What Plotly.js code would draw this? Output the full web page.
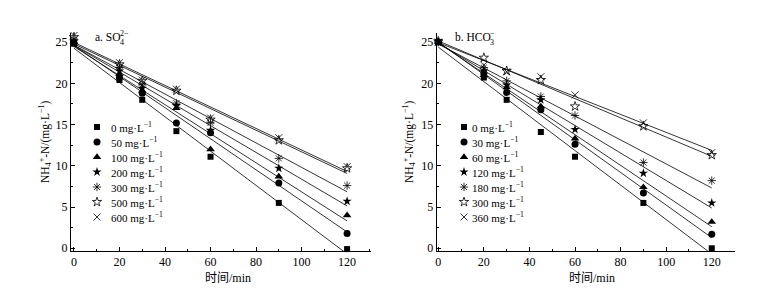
<!DOCTYPE html>
<html>
<head>
<meta charset="utf-8">
<script src="https://cdn.plot.ly/plotly-3.0.1.min.js"></script>
<style>html,body{margin:0;padding:0;background:#fff;}#chart{width:772px;height:299px;}</style>
</head>
<body>
<div id="chart"></div>
<script>
// ---- data ----
const times = [0, 20, 30, 45, 60, 90, 120];

const so4Labels = ["0", "50", "100", "200", "300", "500", "600"];
const so4_0   = [24.8, 20.4, 18.0, 14.2, 11.1, 5.5, -0.1];
const so4_50  = [24.9, 20.7, 18.8, 15.2, 14.0, 7.9, 1.8];
const so4_100 = [25.0, 21.1, 19.1, 17.0, 12.0, 8.7, 4.0];
const so4_200 = [25.1, 21.5, 19.4, 17.3, 14.3, 9.7, 5.7];
const so4_300 = [25.3, 21.9, 19.8, 17.6, 15.2, 10.9, 7.6];
const so4_500 = [25.6, 22.3, 20.3, 19.1, 15.6, 13.1, 9.7];
const so4_600 = [25.8, 22.5, 20.4, 19.3, 15.8, 13.4, 9.9];

const hco3Labels = ["0", "30", "60", "120", "180", "300", "360"];
const hco3_0   = [25.0, 20.7, 18.0, 14.1, 11.1, 5.5, 0.0];
const hco3_30  = [25.0, 21.2, 18.9, 16.8, 12.6, 6.7, 1.7];
const hco3_60  = [25.0, 21.0, 19.5, 17.2, 13.3, 7.4, 3.2];
const hco3_120 = [25.0, 21.5, 19.8, 18.0, 14.4, 9.1, 5.5];
const hco3_180 = [25.0, 21.9, 20.3, 18.4, 16.1, 10.4, 8.2];
const hco3_300 = [25.1, 23.1, 21.5, 20.4, 17.2, 14.8, 11.3];
const hco3_360 = [25.0, 22.2, 21.4, 20.8, 18.6, 15.2, 11.6];

const xTicks = [0, 20, 40, 60, 80, 100, 120];
const yTicks = [0, 5, 10, 15, 20, 25];

// ---- styles ----
const W = 772, H = 299;
const FONT = "Liberation Serif, 'Times New Roman', Noto Sans CJK SC, serif";
const symbols = [
  {symbol: "square", size: 6, open: false},
  {symbol: "circle", size: 7, open: false},
  {symbol: "triangle-up", size: 7.5, open: false},
  {symbol: "star", size: 7, open: false},
  {symbol: "asterisk-open", size: 7, open: true},
  {symbol: "star-open", size: 7, open: true},
  {symbol: "x-thin-open", size: 7, open: true}
];

function markerOf(i) {
  const s = symbols[i];
  return {
    symbol: s.symbol, size: s.size, color: "#000",
    line: {color: "#000", width: s.open ? 0.8 : 0}
  };
}

function fit(xs, ys) {
  const n = xs.length;
  let sx = 0, sy = 0, sxx = 0, sxy = 0;
  for (let i = 0; i < n; i++) { sx += xs[i]; sy += ys[i]; sxx += xs[i]*xs[i]; sxy += xs[i]*ys[i]; }
  const b = (n*sxy - sx*sy) / (n*sxx - sx*sx);
  const a = (sy - b*sx) / n;
  return [a, b];
}

const traces = [];
function addPanel(series, xa, ya) {
  series.forEach((ys, i) => {
    const [a, b] = fit(times, ys);
    const t0 = times[0], t1 = times[times.length - 1];
    traces.push({
      type: "scatter", mode: "lines", x: [t0, t1], y: [a + b*t0, a + b*t1],
      xaxis: xa, yaxis: ya, line: {color: "#000", width: 0.8},
      showlegend: false, hoverinfo: "skip"
    });
  });
  series.forEach((ys, i) => {
    traces.push({
      type: "scatter", mode: "markers", x: times, y: ys,
      xaxis: xa, yaxis: ya, marker: markerOf(i), showlegend: false, cliponaxis: false
    });
  });
}
addPanel([so4_0, so4_50, so4_100, so4_200, so4_300, so4_500, so4_600], "x", "y");
addPanel([hco3_0, hco3_30, hco3_60, hco3_120, hco3_180, hco3_300, hco3_360], "x2", "y2");

// ---- manual legends (pixel layout) ----
const legRow0 = 127, legStep = 15;
const legends = [
  {labels: so4Labels, mx: 97, tx: 109},
  {labels: hco3Labels, mx: 464, tx: 470}
];
const annotations = [];
legends.forEach(lg => {
  lg.labels.forEach((lab, i) => {
    const py = legRow0 + legStep * i;
    traces.push({
      type: "scatter", mode: "markers", x: [lg.mx], y: [py],
      xaxis: "x3", yaxis: "y3", marker: markerOf(i), showlegend: false,
      hoverinfo: "skip", cliponaxis: false
    });
    annotations.push({
      xref: "paper", yref: "paper", x: lg.tx / W, y: 1 - py / H,
      xanchor: "left", yanchor: "middle", showarrow: false,
      text: lab + " mg·L<sup>−1</sup>", font: {family: FONT, size: 11, color: "#000"}
    });
  });
});

function ann(px, py, text, size, extra) {
  annotations.push(Object.assign({
    xref: "paper", yref: "paper", x: px / W, y: 1 - py / H,
    xanchor: "left", yanchor: "middle", showarrow: false, text: text,
    font: {family: FONT, size: size, color: "#000"}
  }, extra || {}));
}
// panel labels
ann(93, 37, "a. SO", 11.5);
ann(117.5, 33, "2−", 8);
ann(117.5, 42, "4", 8);
ann(453, 37, "b. HCO", 11.5);
ann(487.5, 33, "−", 8);
ann(487.5, 42, "3", 8);
// axis titles
const yTitle = "NH<sub>4</sub><sup>+</sup>-N/(mg·L<sup>−1</sup>)";
ann(45, 142, yTitle, 11.5, {xanchor: "center", textangle: -90});
ann(409, 142, yTitle, 11.5, {xanchor: "center", textangle: -90});
ann(228, 278, "时间/min", 12, {xanchor: "center"});
ann(592, 278, "时间/min", 12, {xanchor: "center"});

function xAxis(domain, range) {
  return {
    domain: domain, range: range, tickvals: xTicks, ticks: "inside", ticklen: 4,
    tickcolor: "#000", tickwidth: 1,
    minor: {ticks: "inside", ticklen: 2, dtick: 10, tick0: 0, tickcolor: "#000"},
    showline: true, linecolor: "#000", linewidth: 1, showgrid: false, zeroline: false,
    tickfont: {family: FONT, size: 12, color: "#000"}, fixedrange: true
  };
}
function yAxis(domain, anchor) {
  return {
    domain: domain, range: [-0.33, 26.1], tickvals: yTicks, ticks: "inside", ticklen: 4,
    tickcolor: "#000", tickwidth: 1, anchor: anchor,
    minor: {ticks: "inside", ticklen: 2, dtick: 2.5, tick0: 0, tickcolor: "#000"},
    showline: true, linecolor: "#000", linewidth: 1, showgrid: false, zeroline: false,
    tickfont: {family: FONT, size: 12, color: "#000"}, fixedrange: true
  };
}
const yDom = [(H - 251) / H, (H - 33) / H];

const layout = {
  width: W, height: H, margin: {l: 0, r: 0, t: 0, b: 0},
  paper_bgcolor: "#fff", plot_bgcolor: "rgba(0,0,0,0)",
  showlegend: false,
  xaxis: Object.assign(xAxis([71 / W, 371 / W], [-1.3, 130.5]), {anchor: "y"}),
  yaxis: yAxis(yDom, "x"),
  xaxis2: Object.assign(xAxis([436.7 / W, 735 / W], [-0.7, 130.2]), {anchor: "y2"}),
  yaxis2: yAxis(yDom, "x2"),
  xaxis3: {domain: [0, 1], range: [0, W], visible: false, anchor: "y3", fixedrange: true},
  yaxis3: {domain: [0, 1], range: [H, 0], visible: false, anchor: "x3", fixedrange: true},
  annotations: annotations
};

Plotly.newPlot("chart", traces, layout, {displayModeBar: false, staticPlot: true});
</script>
</body>
</html>
